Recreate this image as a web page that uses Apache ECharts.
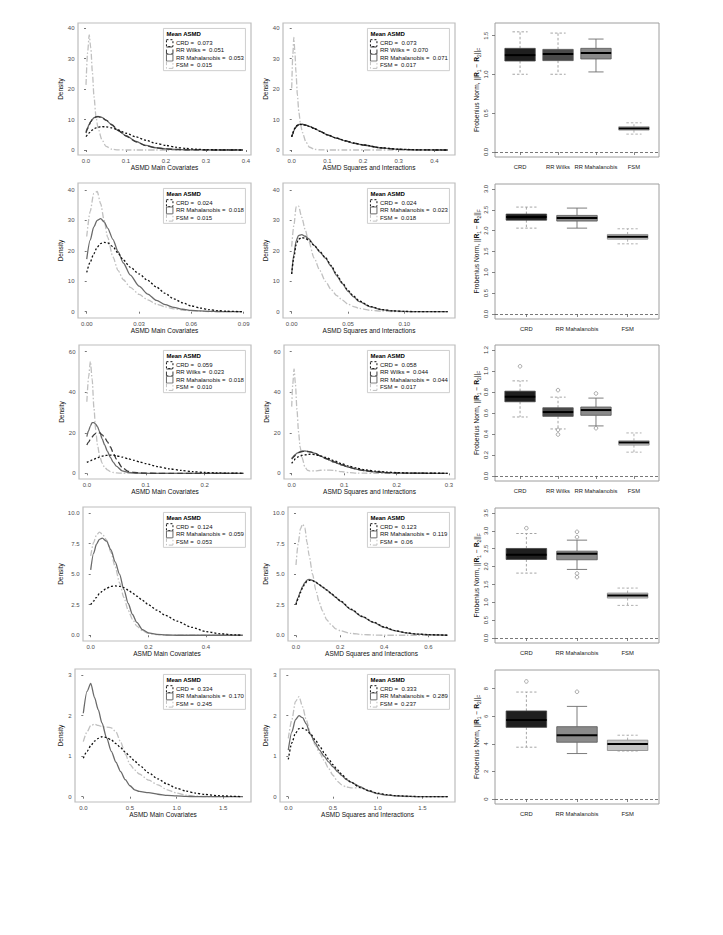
<!DOCTYPE html>
<html><head><meta charset="utf-8">
<script src="https://cdn.jsdelivr.net/npm/echarts@6/dist/echarts.min.js"></script>
<style>html,body{margin:0;padding:0;background:#fff;}#c{width:723px;height:935px;}</style>
</head><body><div id="c"></div>
<script>
// ---------------- DATA ----------------
const methods = ['CRD', 'RR Wilks', 'RR Mahalanobis', 'FSM'];

// Row 1
const r1_main_x = [0, 0.004, 0.008, 0.012, 0.016, 0.02, 0.025, 0.03, 0.04, 0.05, 0.065, 0.08, 0.1, 0.125, 0.15, 0.175, 0.2, 0.225, 0.25, 0.275, 0.3, 0.35, 0.392];
const r1_main_fsm = [21.4, 32, 37.8, 33.5, 25.5, 17.5, 11, 7.2, 3.3, 1.2, 0.25, 0.05, 0, 0, 0, 0, 0, 0, 0, 0, 0, 0, 0];
const r1_main_maha = [6.0, 7.3, 8.5, 9.4, 10.1, 10.6, 10.95, 11.05, 10.7, 9.8, 8.2, 6.4, 4.7, 2.8, 1.5, 0.75, 0.4, 0.18, 0.08, 0.04, 0.02, 0, 0];
const r1_main_wilks = [5.6, 7.0, 8.3, 9.3, 10.0, 10.5, 10.85, 10.95, 10.6, 9.85, 8.3, 6.5, 4.6, 2.7, 1.4, 0.7, 0.35, 0.16, 0.07, 0.03, 0.01, 0, 0];
const r1_main_crd = [4.4, 5.0, 5.6, 6.1, 6.6, 7.0, 7.3, 7.55, 7.7, 7.6, 7.25, 6.6, 5.5, 4.3, 3.2, 2.2, 1.5, 0.9, 0.5, 0.25, 0.12, 0.04, 0];
const r1_main_legend = ['0.073', '0.051', '0.053', '0.015'];
const r1_main_xticks = ['0.0', '0.1', '0.2', '0.3', '0.4'];
const r1_main_yticks = ['0', '10', '20', '30', '40'];

const r1_sq_x = [0, 0.003, 0.006, 0.009, 0.012, 0.016, 0.02, 0.025, 0.03, 0.04, 0.05, 0.065, 0.08, 0.1, 0.125, 0.15, 0.175, 0.2, 0.25, 0.3, 0.35, 0.4, 0.437];
const r1_sq_fsm = [20.3, 31, 37, 32, 25.5, 18, 12.5, 8.2, 5.8, 2.6, 0.9, 0.2, 0.05, 0, 0, 0, 0, 0, 0, 0, 0, 0, 0];
const r1_sq_maha = [4.4, 5.4, 6.3, 7.0, 7.6, 8.1, 8.4, 8.5, 8.5, 8.2, 7.8, 7.0, 6.1, 5.0, 3.9, 3.0, 2.2, 1.6, 0.7, 0.22, 0.06, 0.01, 0];
const r1_sq_wilks = [4.3, 5.3, 6.2, 6.9, 7.5, 8.0, 8.3, 8.4, 8.4, 8.15, 7.8, 7.0, 6.1, 5.0, 3.9, 3.0, 2.25, 1.65, 0.72, 0.24, 0.07, 0.01, 0];
const r1_sq_crd = [4.3, 5.5, 6.5, 7.3, 7.8, 8.2, 8.35, 8.4, 8.35, 8.1, 7.7, 6.9, 6.1, 5.0, 3.95, 3.05, 2.3, 1.7, 0.75, 0.25, 0.08, 0.02, 0];
const r1_sq_legend = ['0.073', '0.070', '0.071', '0.017'];
const r1_sq_xticks = ['0.0', '0.1', '0.2', '0.3', '0.4'];
const r1_sq_yticks = ['0', '10', '20', '30', '40'];

// Row 2
const r2_main_x = [0, 0.002, 0.004, 0.006, 0.008, 0.01, 0.012, 0.015, 0.018, 0.021, 0.025, 0.03, 0.035, 0.04, 0.045, 0.05, 0.055, 0.06, 0.065, 0.07, 0.075, 0.08, 0.089];
const r2_main_fsm = [24.7, 33, 38.8, 39.5, 35.5, 30, 24.5, 18, 13.5, 10.5, 8.0, 5.7, 3.9, 2.5, 1.6, 0.95, 0.55, 0.3, 0.15, 0.07, 0.03, 0.01, 0];
const r2_main_maha = [17.3, 23.5, 27.8, 30.0, 30.6, 29.5, 27.5, 23.8, 19.7, 16.0, 12.0, 8.4, 5.8, 3.7, 2.3, 1.4, 0.8, 0.45, 0.25, 0.12, 0.06, 0.03, 0];
const r2_main_crd = [12.9, 16.3, 19.0, 21.2, 22.4, 22.8, 22.6, 21.4, 19.2, 17.0, 14.6, 12.4, 10.3, 8.1, 6.0, 4.2, 2.9, 1.9, 1.2, 0.7, 0.35, 0.15, 0];
const r2_main_legend = ['0.024', null, '0.018', '0.015'];
const r2_main_xticks = ['0.00', '0.03', '0.06', '0.09'];
const r2_main_yticks = ['0', '10', '20', '30', '40'];

const r2_sq_x = [0, 0.002, 0.004, 0.006, 0.009, 0.012, 0.015, 0.02, 0.025, 0.03, 0.035, 0.04, 0.045, 0.05, 0.055, 0.06, 0.07, 0.08, 0.09, 0.1, 0.11, 0.125, 0.1385];
const r2_sq_fsm = [21.4, 28.5, 34.5, 34.8, 31.0, 27.0, 23.2, 17.6, 13.5, 10.0, 7.3, 5.3, 3.8, 2.5, 1.7, 1.1, 0.45, 0.17, 0.06, 0.02, 0.01, 0, 0];
const r2_sq_maha = [12.4, 19.0, 23.3, 25.0, 25.3, 24.8, 24.0, 21.8, 19.6, 17.6, 14.9, 11.8, 9.2, 6.7, 4.9, 3.3, 1.6, 0.65, 0.25, 0.08, 0.03, 0.01, 0];
const r2_sq_crd = [12.4, 18.0, 22.0, 23.8, 24.4, 24.1, 23.6, 21.8, 19.8, 17.8, 15.2, 12.2, 9.5, 7.0, 5.1, 3.5, 1.7, 0.7, 0.27, 0.09, 0.03, 0.01, 0];
const r2_sq_legend = ['0.024', null, '0.023', '0.018'];
const r2_sq_xticks = ['0.00', '0.05', '0.10'];
const r2_sq_yticks = ['0', '10', '20', '30', '40'];

// Row 3
const r3_main_x = [0, 0.003, 0.006, 0.009, 0.012, 0.015, 0.018, 0.022, 0.026, 0.03, 0.035, 0.04, 0.045, 0.05, 0.06, 0.07, 0.08, 0.09, 0.1, 0.12, 0.14, 0.16, 0.18, 0.2, 0.22, 0.24, 0.2655];
const r3_main_fsm = [35.3, 47.5, 55.2, 46.5, 32.5, 21.5, 14.0, 8.2, 5.0, 3.0, 1.7, 0.85, 0.4, 0.2, 0.05, 0, 0, 0, 0, 0, 0, 0, 0, 0, 0, 0, 0];
const r3_main_maha = [18.1, 21.0, 23.3, 25.0, 25.0, 24.3, 23.0, 20.3, 17.0, 14.1, 10.8, 7.8, 5.4, 3.5, 1.2, 0.45, 0.15, 0.05, 0.02, 0, 0, 0, 0, 0, 0, 0, 0];
const r3_main_wilks = [14.0, 15.4, 16.7, 17.9, 19.0, 19.7, 20.1, 19.9, 19.0, 17.8, 15.5, 13.0, 10.0, 7.0, 2.8, 1.0, 0.4, 0.15, 0.05, 0, 0, 0, 0, 0, 0, 0, 0];
const r3_main_crd = [5.4, 5.8, 6.2, 6.6, 7.0, 7.3, 7.7, 8.1, 8.45, 8.7, 8.9, 9.0, 8.9, 8.6, 8.0, 7.2, 6.4, 5.6, 4.8, 3.3, 2.2, 1.45, 0.8, 0.4, 0.2, 0.1, 0];
const r3_main_legend = ['0.059', '0.023', '0.018', '0.010'];
const r3_main_xticks = ['0.0', '0.1', '0.2'];
const r3_main_yticks = ['0', '20', '40', '60'];

const r3_sq_x = [0, 0.002, 0.0045, 0.007, 0.01, 0.013, 0.016, 0.02, 0.025, 0.03, 0.035, 0.045, 0.055, 0.065, 0.08, 0.095, 0.11, 0.125, 0.14, 0.16, 0.18, 0.2, 0.225, 0.25, 0.2975];
const r3_sq_fsm = [32.9, 44, 51.5, 44.5, 31.5, 20.5, 13.0, 7.6, 3.2, 1.5, 1.1, 1.2, 1.5, 1.6, 1.45, 0.8, 0.35, 0.12, 0.04, 0, 0, 0, 0, 0, 0];
const r3_sq_maha = [7.4, 8.0, 8.7, 9.3, 9.9, 10.3, 10.65, 10.95, 11.0, 10.85, 10.6, 9.8, 8.5, 7.3, 5.6, 4.2, 2.9, 1.95, 1.3, 0.7, 0.35, 0.15, 0.05, 0.02, 0];
const r3_sq_wilks = [7.0, 7.6, 8.3, 9.0, 9.6, 10.1, 10.45, 10.75, 10.85, 10.75, 10.55, 9.8, 8.5, 7.3, 5.6, 4.2, 2.9, 1.95, 1.3, 0.7, 0.35, 0.15, 0.05, 0.02, 0];
const r3_sq_crd = [4.9, 5.6, 6.5, 7.2, 7.8, 8.2, 8.5, 8.8, 9.05, 9.25, 9.4, 9.2, 8.55, 7.8, 6.3, 4.8, 3.5, 2.5, 1.75, 1.05, 0.65, 0.35, 0.12, 0.04, 0];
const r3_sq_legend = ['0.058', '0.044', '0.044', '0.017'];
const r3_sq_xticks = ['0.0', '0.1', '0.2', '0.3'];
const r3_sq_yticks = ['0', '20', '40', '60'];

// Row 4
const r4_main_x = [0, 0.01, 0.02, 0.03, 0.04, 0.055, 0.07, 0.085, 0.1, 0.115, 0.13, 0.145, 0.16, 0.18, 0.2, 0.23, 0.26, 0.3, 0.35, 0.4, 0.45, 0.5, 0.527];
const r4_main_fsm = [6.5, 7.6, 8.2, 8.45, 8.3, 7.8, 6.8, 5.6, 4.3, 3.1, 2.05, 1.3, 0.75, 0.35, 0.15, 0.05, 0.02, 0, 0, 0, 0, 0, 0];
const r4_main_maha = [5.35, 6.7, 7.45, 7.85, 7.95, 7.7, 7.0, 6.0, 5.0, 3.75, 2.6, 1.7, 1.05, 0.45, 0.2, 0.07, 0.02, 0, 0, 0, 0, 0, 0];
const r4_main_crd = [2.5, 2.8, 3.1, 3.4, 3.6, 3.85, 4.0, 4.04, 4.0, 3.9, 3.7, 3.45, 3.2, 2.85, 2.5, 2.05, 1.62, 1.15, 0.65, 0.3, 0.12, 0.03, 0];
const r4_main_legend = ['0.124', null, '0.059', '0.053'];
const r4_main_xticks = ['0.0', '0.2', '0.4'];
const r4_main_yticks = ['0.0', '2.5', '5.0', '7.5', '10.0'];

const r4_sq_x = [0, 0.01, 0.02, 0.03, 0.04, 0.05, 0.06, 0.075, 0.09, 0.105, 0.12, 0.14, 0.16, 0.18, 0.2, 0.25, 0.3, 0.35, 0.4, 0.45, 0.5, 0.55, 0.6, 0.687];
const r4_sq_fsm = [5.75, 7.5, 8.7, 9.1, 8.8, 7.6, 6.5, 5.0, 3.7, 2.7, 2.0, 1.25, 0.85, 0.53, 0.38, 0.15, 0.06, 0.02, 0, 0, 0, 0, 0, 0];
const r4_sq_maha = [2.56, 3.1, 3.6, 4.0, 4.3, 4.52, 4.58, 4.5, 4.35, 4.15, 3.95, 3.7, 3.4, 3.1, 2.8, 2.1, 1.52, 1.05, 0.65, 0.36, 0.19, 0.09, 0.04, 0];
const r4_sq_crd = [2.5, 3.0, 3.5, 3.9, 4.2, 4.42, 4.5, 4.47, 4.33, 4.15, 3.95, 3.7, 3.42, 3.12, 2.83, 2.13, 1.55, 1.08, 0.68, 0.38, 0.2, 0.1, 0.05, 0];
const r4_sq_legend = ['0.123', null, '0.119', '0.06'];
const r4_sq_xticks = ['0.0', '0.2', '0.4', '0.6'];
const r4_sq_yticks = ['0.0', '2.5', '5.0', '7.5', '10.0'];

// Row 5
const r5_main_x = [0, 0.04, 0.08, 0.12, 0.16, 0.2, 0.25, 0.3, 0.35, 0.4, 0.45, 0.5, 0.55, 0.6, 0.7, 0.8, 0.9, 1.0, 1.1, 1.2, 1.3, 1.45, 1.6, 1.707];
const r5_main_maha = [2.06, 2.6, 2.8, 2.45, 2.15, 1.82, 1.45, 1.12, 0.85, 0.62, 0.42, 0.27, 0.17, 0.13, 0.1, 0.06, 0.035, 0.02, 0.01, 0, 0, 0, 0, 0];
const r5_main_fsm = [1.36, 1.6, 1.76, 1.79, 1.76, 1.73, 1.72, 1.7, 1.6, 1.35, 1.05, 0.8, 0.66, 0.56, 0.41, 0.29, 0.17, 0.09, 0.04, 0.015, 0.005, 0, 0, 0];
const r5_main_crd = [0.95, 1.12, 1.26, 1.37, 1.44, 1.48, 1.46, 1.4, 1.31, 1.21, 1.1, 0.99, 0.88, 0.78, 0.59, 0.44, 0.31, 0.21, 0.14, 0.09, 0.055, 0.025, 0.01, 0];
const r5_main_legend = ['0.334', null, '0.170', '0.245'];
const r5_main_xticks = ['0.0', '0.5', '1.0', '1.5'];
const r5_main_yticks = ['0', '1', '2', '3'];

const r5_sq_x = [0, 0.04, 0.08, 0.12, 0.16, 0.2, 0.25, 0.3, 0.35, 0.4, 0.45, 0.5, 0.55, 0.6, 0.65, 0.7, 0.8, 0.9, 1.0, 1.1, 1.2, 1.35, 1.5, 1.65, 1.784];
const r5_sq_fsm = [1.44, 1.9, 2.35, 2.47, 2.22, 1.9, 1.55, 1.28, 1.08, 0.9, 0.7, 0.53, 0.38, 0.29, 0.24, 0.22, 0.22, 0.16, 0.07, 0.035, 0.02, 0.005, 0, 0, 0];
const r5_sq_maha = [1.15, 1.6, 1.9, 2.0, 1.95, 1.8, 1.53, 1.33, 1.15, 1.0, 0.86, 0.74, 0.62, 0.52, 0.42, 0.36, 0.25, 0.14, 0.075, 0.04, 0.02, 0.008, 0, 0, 0];
const r5_sq_crd = [0.92, 1.33, 1.57, 1.68, 1.69, 1.65, 1.55, 1.41, 1.25, 1.09, 0.93, 0.79, 0.66, 0.55, 0.44, 0.36, 0.23, 0.15, 0.085, 0.05, 0.025, 0.01, 0, 0, 0];
const r5_sq_legend = ['0.333', null, '0.289', '0.237'];
const r5_sq_xticks = ['0.0', '0.5', '1.0', '1.5'];
const r5_sq_yticks = ['0', '1', '2', '3'];

// Boxplots (Frobenius norm)
const r1_box_cats = ['CRD', 'RR Wilks', 'RR Mahalanobis', 'FSM'];
const r1_box_low = [1.003, 1.003, 1.033, 0.231];
const r1_box_q1 = [1.174, 1.179, 1.2, 0.283];
const r1_box_med = [1.25, 1.264, 1.277, 0.304];
const r1_box_q3 = [1.337, 1.324, 1.337, 0.326];
const r1_box_high = [1.55, 1.534, 1.457, 0.377];
const r1_box_out = [];
const r1_box_yticks = ['0.0', '0.5', '1.0', '1.5'];

const r2_box_cats = ['CRD', 'RR Mahalanobis', 'FSM'];
const r2_box_low = [2.061, 2.061, 1.684];
const r2_box_q1 = [2.253, 2.23, 1.796];
const r2_box_med = [2.326, 2.302, 1.852];
const r2_box_q3 = [2.398, 2.366, 1.909];
const r2_box_high = [2.566, 2.542, 2.045];
const r2_box_out = [];
const r2_box_yticks = ['0.0', '0.5', '1.0', '1.5', '2.0', '2.5', '3.0'];

const r3_box_cats = ['CRD', 'RR Wilks', 'RR Mahalanobis', 'FSM'];
const r3_box_low = [0.562, 0.448, 0.477, 0.227];
const r3_box_q1 = [0.707, 0.568, 0.578, 0.294];
const r3_box_med = [0.755, 0.609, 0.628, 0.319];
const r3_box_q3 = [0.808, 0.65, 0.657, 0.335];
const r3_box_high = [0.906, 0.751, 0.742, 0.41];
const r3_box_out = [[1, 1.045], [2, 0.818], [2, 0.439], [2, 0.395], [3, 0.786], [3, 0.455]];
const r3_box_yticks = ['0.0', '0.2', '0.4', '0.6', '0.8', '1.0', '1.2'];

const r4_box_cats = ['CRD', 'RR Mahalanobis', 'FSM'];
const r4_box_low = [1.817, 1.92, 0.913];
const r4_box_q1 = [2.2, 2.19, 1.118];
const r4_box_med = [2.33, 2.358, 1.193];
const r4_box_q3 = [2.507, 2.432, 1.258];
const r4_box_high = [2.926, 2.74, 1.398];
const r4_box_out = [[1, 3.075], [2, 2.973], [2, 2.824], [2, 1.808], [2, 1.705]];
const r4_box_yticks = ['0.0', '0.5', '1.0', '1.5', '2.0', '2.5', '3.0', '3.5'];

const r5_box_cats = ['CRD', 'RR Mahalanobis', 'FSM'];
const r5_box_low = [3.76, 3.3, 3.48];
const r5_box_q1 = [5.2, 4.12, 3.52];
const r5_box_med = [5.73, 4.63, 4.0];
const r5_box_q3 = [6.39, 5.25, 4.27];
const r5_box_high = [7.76, 6.72, 4.63];
const r5_box_out = [[1, 8.53], [2, 7.78]];
const r5_box_yticks = ['0', '2', '4', '6', '8'];

// ---------------- LAYOUT / STYLE ----------------
const FONT = '"Liberation Sans", Arial, Helvetica, sans-serif';
const lineStyles = {
  'CRD': { color: '#111111', width: 1.3, type: [2, 2] },
  'RR Wilks': { color: '#3a3a3a', width: 1.3, type: [6, 3] },
  'RR Mahalanobis': { color: '#6a6a6a', width: 1.3, type: 'solid' },
  'FSM': { color: '#c0c0c0', width: 1.3, type: [6, 2, 1.5, 2] }
};
const zOrder = { 'FSM': 2, 'RR Mahalanobis': 3, 'RR Wilks': 4, 'CRD': 5 };
const boxStyles = {
  'CRD': { fill: '#1f1f1f', border: '#444', whisker: '#9a9a9a', dash: true },
  'RR Wilks': { fill: '#4a4a4a', border: '#555', whisker: '#9a9a9a', dash: true },
  'RR Mahalanobis': { fill: '#8a8a8a', border: '#555', whisker: '#6e6e6e', dash: false },
  'FSM': { fill: '#c3c3c3', border: '#888', whisker: '#a8a8a8', dash: true }
};

const densityPanels = [
  { x: r1_main_x, ys: { 'CRD': r1_main_crd, 'RR Wilks': r1_main_wilks, 'RR Mahalanobis': r1_main_maha, 'FSM': r1_main_fsm }, legend: r1_main_legend, xticks: r1_main_xticks, yticks: r1_main_yticks, xname: 'ASMD Main Covariates' },
  { x: r1_sq_x, ys: { 'CRD': r1_sq_crd, 'RR Wilks': r1_sq_wilks, 'RR Mahalanobis': r1_sq_maha, 'FSM': r1_sq_fsm }, legend: r1_sq_legend, xticks: r1_sq_xticks, yticks: r1_sq_yticks, xname: 'ASMD Squares and Interactions' },
  { x: r2_main_x, ys: { 'CRD': r2_main_crd, 'RR Mahalanobis': r2_main_maha, 'FSM': r2_main_fsm }, legend: r2_main_legend, xticks: r2_main_xticks, yticks: r2_main_yticks, xname: 'ASMD Main Covariates' },
  { x: r2_sq_x, ys: { 'CRD': r2_sq_crd, 'RR Mahalanobis': r2_sq_maha, 'FSM': r2_sq_fsm }, legend: r2_sq_legend, xticks: r2_sq_xticks, yticks: r2_sq_yticks, xname: 'ASMD Squares and Interactions' },
  { x: r3_main_x, ys: { 'CRD': r3_main_crd, 'RR Wilks': r3_main_wilks, 'RR Mahalanobis': r3_main_maha, 'FSM': r3_main_fsm }, legend: r3_main_legend, xticks: r3_main_xticks, yticks: r3_main_yticks, xname: 'ASMD Main Covariates' },
  { x: r3_sq_x, ys: { 'CRD': r3_sq_crd, 'RR Wilks': r3_sq_wilks, 'RR Mahalanobis': r3_sq_maha, 'FSM': r3_sq_fsm }, legend: r3_sq_legend, xticks: r3_sq_xticks, yticks: r3_sq_yticks, xname: 'ASMD Squares and Interactions' },
  { x: r4_main_x, ys: { 'CRD': r4_main_crd, 'RR Mahalanobis': r4_main_maha, 'FSM': r4_main_fsm }, legend: r4_main_legend, xticks: r4_main_xticks, yticks: r4_main_yticks, xname: 'ASMD Main Covariates' },
  { x: r4_sq_x, ys: { 'CRD': r4_sq_crd, 'RR Mahalanobis': r4_sq_maha, 'FSM': r4_sq_fsm }, legend: r4_sq_legend, xticks: r4_sq_xticks, yticks: r4_sq_yticks, xname: 'ASMD Squares and Interactions' },
  { x: r5_main_x, ys: { 'CRD': r5_main_crd, 'RR Mahalanobis': r5_main_maha, 'FSM': r5_main_fsm }, legend: r5_main_legend, xticks: r5_main_xticks, yticks: r5_main_yticks, xname: 'ASMD Main Covariates' },
  { x: r5_sq_x, ys: { 'CRD': r5_sq_crd, 'RR Mahalanobis': r5_sq_maha, 'FSM': r5_sq_fsm }, legend: r5_sq_legend, xticks: r5_sq_xticks, yticks: r5_sq_yticks, xname: 'ASMD Squares and Interactions' }
];
const densityLayout = [
  { L: 78, T: 23, R: 251, B: 155, xr: [-0.02, 0.4125], yr: [-1.64, 41.74] },
  { L: 283, T: 23, R: 455, B: 155, xr: [-0.0244, 0.4578], yr: [-1.64, 41.74] },
  { L: 78, T: 183, R: 251, B: 318, xr: [-0.005, 0.0942], yr: [-2.07, 42.3] },
  { L: 283, T: 183, R: 455, B: 318, xr: [-0.0077, 0.145], yr: [-2.07, 42.3] },
  { L: 79, T: 345, R: 251, B: 479, xr: [-0.0133, 0.2785], yr: [-2.81, 63.3] },
  { L: 284, T: 345, R: 455, B: 479, xr: [-0.0147, 0.3115], yr: [-2.81, 63.3] },
  { L: 83, T: 507, R: 251, B: 641, xr: [-0.0267, 0.556], yr: [-0.47, 10.5] },
  { L: 288, T: 507, R: 455, B: 641, xr: [-0.0362, 0.7205], yr: [-0.47, 10.5] },
  { L: 75, T: 669, R: 251, B: 802, xr: [-0.089, 1.797], yr: [-0.131, 3.153] },
  { L: 280, T: 669, R: 455, B: 802, xr: [-0.093, 1.866], yr: [-0.131, 3.153] }
];

const boxPanels = [
  { cats: r1_box_cats, low: r1_box_low, q1: r1_box_q1, med: r1_box_med, q3: r1_box_q3, high: r1_box_high, out: r1_box_out, yticks: r1_box_yticks },
  { cats: r2_box_cats, low: r2_box_low, q1: r2_box_q1, med: r2_box_med, q3: r2_box_q3, high: r2_box_high, out: r2_box_out, yticks: r2_box_yticks },
  { cats: r3_box_cats, low: r3_box_low, q1: r3_box_q1, med: r3_box_med, q3: r3_box_q3, high: r3_box_high, out: r3_box_out, yticks: r3_box_yticks },
  { cats: r4_box_cats, low: r4_box_low, q1: r4_box_q1, med: r4_box_med, q3: r4_box_q3, high: r4_box_high, out: r4_box_out, yticks: r4_box_yticks },
  { cats: r5_box_cats, low: r5_box_low, q1: r5_box_q1, med: r5_box_med, q3: r5_box_q3, high: r5_box_high, out: r5_box_out, yticks: r5_box_yticks }
];
const boxLayout = [
  { L: 495, T: 23, R: 659, B: 157, yr: [-0.064, 1.664] },
  { L: 495, T: 184, R: 659, B: 319, yr: [-0.12, 3.12] },
  { L: 495, T: 345, R: 659, B: 481, yr: [-0.048, 1.248] },
  { L: 495, T: 508, R: 659, B: 643, yr: [-0.14, 3.64] },
  { L: 495, T: 670, R: 659, B: 804, yr: [-0.36, 9.36] }
];

function fmtFrom(labels) {
  return function (v) {
    for (const s of labels) { if (Math.abs(parseFloat(s) - v) < 1e-9) return s; }
    return '';
  };
}

const option = {
  animation: false,
  backgroundColor: '#ffffff',
  textStyle: { fontFamily: FONT },
  grid: [], xAxis: [], yAxis: [], series: [], graphic: []
};

// ---------------- density panels ----------------
densityPanels.forEach(function (p, i) {
  const lay = densityLayout[i];
  const left = (i % 2 === 0);
  option.grid.push({ left: lay.L, top: lay.T, width: lay.R - lay.L, height: lay.B - lay.T, show: true, borderColor: '#bdbdbd', borderWidth: 1.2, containLabel: false, outerBoundsMode: 'none' });
  const xt = p.xticks.map(Number), yt = p.yticks.map(Number);
  option.xAxis.push({
    type: 'value', gridIndex: i, min: lay.xr[0], max: lay.xr[1],
    axisLine: { show: false }, splitLine: { show: false },
    axisTick: { show: true, length: 2, customValues: xt, lineStyle: { color: '#555', width: 0.8 } },
    axisLabel: { customValues: xt, formatter: fmtFrom(p.xticks), fontSize: 6, color: '#4d4d4d', margin: 2.5 },
    name: p.xname, nameLocation: 'middle', nameGap: 8.5, nameTextStyle: { fontSize: 6.5, color: '#111' }
  });
  option.yAxis.push({
    type: 'value', gridIndex: i, min: lay.yr[0], max: lay.yr[1],
    axisLine: { show: false }, splitLine: { show: false },
    axisTick: { show: true, length: 2, customValues: yt, lineStyle: { color: '#555', width: 0.8 } },
    axisLabel: { customValues: yt, formatter: fmtFrom(p.yticks), fontSize: 6, color: '#4d4d4d', margin: 3.5 },
    name: 'Density', nameLocation: 'middle', nameRotate: 90,
    nameGap: lay.L - (left ? 65 : 270.5) - 1.5, nameTextStyle: { fontSize: 6.5, color: '#111' }
  });
  methods.slice().reverse().forEach(function (m) {
    if (!p.ys[m]) return;
    option.series.push({
      type: 'line', name: m, xAxisIndex: i, yAxisIndex: i,
      data: p.x.map(function (xv, k) { return [xv, p.ys[m][k]]; }),
      showSymbol: false, symbol: 'none', smooth: 0.25, smoothMonotone: 'x',
      lineStyle: lineStyles[m], z: zOrder[m], silent: true
    });
  });
  // legend box
  const items = methods.filter(function (m, k) { return p.legend[k] !== null; });
  const W = 82, rowH = 7.3, H = 11 + items.length * rowH + 2;
  const children = [
    { type: 'rect', shape: { x: 0, y: 0, width: W, height: H }, style: { fill: '#fff', stroke: '#c8c8c8', lineWidth: 0.9 } },
    { type: 'text', x: 3, y: 6, style: { text: 'Mean ASMD', fontSize: 6, fontWeight: 'bold', fontFamily: FONT, fill: '#000', verticalAlign: 'middle', align: 'left' } }
  ];
  items.forEach(function (m, k) {
    const val = p.legend[methods.indexOf(m)];
    const yc = 11 + k * rowH + rowH / 2;
    const ls = lineStyles[m];
    const st = { fill: '#fff', stroke: ls.color, lineWidth: 1 };
    if (Array.isArray(ls.type)) st.lineDash = ls.type;
    children.push({ type: 'rect', shape: { x: 3, y: yc - 3.4, width: 6.5, height: 6.8 }, style: st });
    children.push({ type: 'text', x: 12.5, y: yc, style: { text: m + ' =  ' + val, fontSize: 6, fontFamily: FONT, fill: '#111', verticalAlign: 'middle', align: 'left' } });
  });
  option.graphic.push({ type: 'group', left: lay.R - 6 - W, top: lay.T + 5, silent: true, children: children });
});

// ---------------- boxplot panels ----------------
boxPanels.forEach(function (p, j) {
  const i = 10 + j;
  const lay = boxLayout[j];
  const n = p.cats.length;
  const pos = p.cats.map(function (c, k) { return k + 1; });
  const yt = p.yticks.map(Number);
  option.grid.push({ left: lay.L, top: lay.T, width: lay.R - lay.L, height: lay.B - lay.T, show: true, borderColor: '#9e9e9e', borderWidth: 1, containLabel: false, outerBoundsMode: 'none' });
  option.xAxis.push({
    type: 'value', gridIndex: i, min: 0.5 - 0.04 * n, max: n + 0.5 + 0.04 * n,
    axisLine: { show: false }, splitLine: { show: false },
    axisTick: { show: true, length: 3, customValues: pos, lineStyle: { color: '#666', width: 0.8 } },
    axisLabel: { customValues: pos, formatter: function (v) { return p.cats[Math.round(v) - 1] || ''; }, fontSize: 5.8, color: '#222', margin: 6.5 }
  });
  option.yAxis.push({
    type: 'value', gridIndex: i, min: lay.yr[0], max: lay.yr[1],
    axisLine: { show: false }, splitLine: { show: false },
    axisTick: { show: true, length: 3, customValues: yt, lineStyle: { color: '#666', width: 0.8 } },
    axisLabel: { customValues: yt, formatter: fmtFrom(p.yticks), fontSize: 5.8, color: '#333', margin: 6, rotate: 90 },
    name: '{n|Frobenius Norm, ||}{b|R}{s|1}{n| \u2212 }{b|R}{s|2}{n|||}{s|F}',
    nameLocation: 'middle', nameRotate: 90, nameGap: 12,
    nameTextStyle: {
      color: '#111', fontSize: 6.7,
      rich: {
        n: { fontSize: 6.7, lineHeight: 8, verticalAlign: 'top', color: '#111' },
        b: { fontSize: 6.7, lineHeight: 8, verticalAlign: 'top', fontWeight: 'bold', color: '#111' },
        s: { fontSize: 4.8, lineHeight: 5, verticalAlign: 'top', padding: [4, 0, 0, 0], color: '#111' }
      }
    }
  });
  option.series.push({
    type: 'custom', xAxisIndex: i, yAxisIndex: i, silent: true,
    encode: { x: 0, y: [1, 2, 3, 4, 5] },
    data: p.cats.map(function (c, k) { return [k + 1, p.low[k], p.q1[k], p.med[k], p.q3[k], p.high[k]]; }),
    renderItem: function (params, api) {
      const k = api.value(0);
      const st = boxStyles[p.cats[k - 1]];
      const c = function (xx, yy) { return api.coord([xx, yy]); };
      const lo = api.value(1), q1 = api.value(2), md = api.value(3), q3 = api.value(4), hi = api.value(5);
      const ws = { stroke: st.whisker, lineWidth: 0.9, fill: null };
      if (st.dash) ws.lineDash = [2.5, 2];
      const seg = function (a, b, style) { return { type: 'line', shape: { x1: a[0], y1: a[1], x2: b[0], y2: b[1] }, style: style }; };
      const tl = c(k - 0.4, q3), br = c(k + 0.4, q1);
      return {
        type: 'group', children: [
          seg(c(k, q3), c(k, hi), ws),
          seg(c(k, q1), c(k, lo), ws),
          seg(c(k - 0.2, hi), c(k + 0.2, hi), ws),
          seg(c(k - 0.2, lo), c(k + 0.2, lo), ws),
          { type: 'rect', shape: { x: tl[0], y: tl[1], width: br[0] - tl[0], height: br[1] - tl[1] }, style: { fill: st.fill, stroke: st.border, lineWidth: 0.8 } },
          seg(c(k - 0.4, md), c(k + 0.4, md), { stroke: '#000', lineWidth: 2 })
        ]
      };
    }
  });
  option.series.push({
    type: 'scatter', xAxisIndex: i, yAxisIndex: i, silent: true,
    data: p.out, symbol: 'circle', symbolSize: 3.6,
    itemStyle: { color: '#ffffff', borderColor: '#6a6a6a', borderWidth: 0.7 },
    markLine: {
      silent: true, symbol: 'none', label: { show: false },
      lineStyle: { type: [3, 2], color: '#555', width: 0.8 },
      data: [{ yAxis: 0 }]
    }
  });
});

const chart = echarts.init(document.getElementById('c'), null, { renderer: 'svg', width: 723, height: 935 });
chart.setOption(option);
</script>
</body></html>
